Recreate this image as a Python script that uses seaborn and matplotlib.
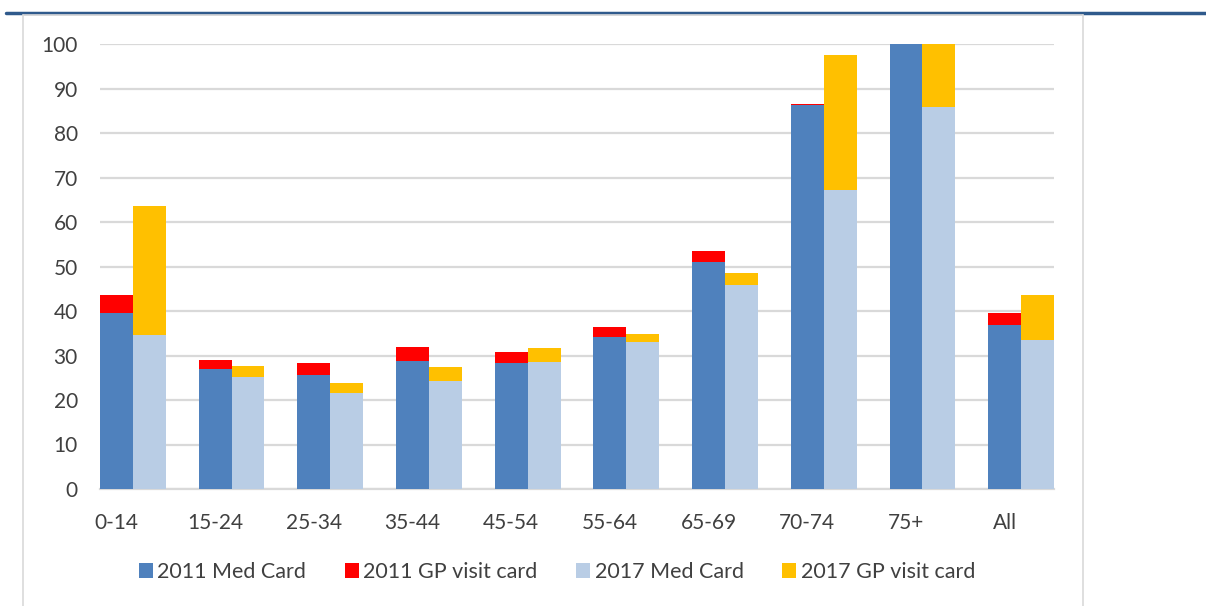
import numpy as np
import pandas as pd
import matplotlib
matplotlib.use("Agg")
import matplotlib.pyplot as plt
from matplotlib.patches import Patch
from matplotlib.lines import Line2D
import seaborn as sns

# data
ages = ['0-14', '15-24', '25-34', '35-44', '45-54', '55-64', '65-69', '70-74', '75+', 'All']
med_2011 = [39.6, 26.9, 25.6, 28.7, 28.3, 34.1, 51.0, 86.3, 100.0, 36.8]
gp_2011 = [4.1, 2.0, 2.7, 3.1, 2.4, 2.4, 2.4, 0.2, 0.0, 2.8]
med_2017 = [34.5, 25.1, 21.5, 24.2, 28.5, 33.0, 45.8, 67.3, 85.9, 33.4]
gp_2017 = [29.1, 2.6, 2.3, 3.2, 3.1, 1.8, 2.7, 30.3, 14.1, 10.3]

series = ['2011 Med Card', '2011 GP visit card', '2017 Med Card', '2017 GP visit card']
colors = ['#4F81BD', '#FF0000', '#B9CDE5', '#FFC000']

"""
Build a long table: each age group uses 3 slots (2011 bar, 2017 bar, gap)
"""
rows = []
for i, age in enumerate(ages):
    rows.append(dict(slot=3 * i, med=med_2011[i], total=med_2011[i] + gp_2011[i],
                     med_s=series[0], gp_s=series[1]))
    rows.append(dict(slot=3 * i + 1, med=med_2017[i], total=med_2017[i] + gp_2017[i],
                     med_s=series[2], gp_s=series[3]))
df = pd.DataFrame(rows)

sns.set_style('white')
plt.rcParams['font.family'] = ['Lato', 'DejaVu Sans']

fig = plt.figure(figsize=(12.06, 6.06), dpi=100)
ax = fig.add_axes([100 / 1206, 1 - 489 / 606, 954 / 1206, 445 / 606])

# totals first (GP part shows above), then Med Card on top
sns.barplot(data=df, x='slot', y='total', hue='gp_s', native_scale=True, dodge=False,
            palette=[colors[1], colors[3]], saturation=1, width=1, linewidth=0,
            ax=ax, legend=False, zorder=2)
sns.barplot(data=df, x='slot', y='med', hue='med_s', native_scale=True, dodge=False,
            palette=[colors[0], colors[2]], saturation=1, width=1, linewidth=0,
            ax=ax, legend=False, zorder=3)

ax.set_xlim(-0.5, 3 * len(ages) - 1.5)
ax.set_ylim(0, 100)
ax.set_yticks(np.arange(0, 101, 10))
ax.set_xticks(np.arange(len(ages)) * 3)
ax.set_xticklabels(ages)
ax.set_xlabel('')
ax.set_ylabel('')
ax.tick_params(axis='both', length=0, labelsize=15, colors='#404040')
ax.tick_params(axis='x', pad=17)
ax.tick_params(axis='y', pad=16)
ax.grid(axis='y', color='#D9D9D9', linewidth=1.6, zorder=0)
ax.set_axisbelow(True)
for s in ['top', 'right', 'left']:
    ax.spines[s].set_visible(False)
ax.spines['bottom'].set_color('#D9D9D9')
ax.spines['bottom'].set_linewidth(1.6)

handles = [Patch(facecolor=c, edgecolor='none') for c in colors]
fig.legend(handles, series, loc='center', bbox_to_anchor=(557 / 1206, 1 - 572 / 606),
           ncol=4, frameon=False, fontsize=15.5, handlelength=0.65, handleheight=0.65,
           handletextpad=0.2, columnspacing=1.8, labelcolor='#404040')

# page decorations: dark blue rule on top and light frame
fig.add_artist(Line2D([6 / 1206, 1], [1 - 13 / 606] * 2, color='#2F5A8C', linewidth=2.5))
fig.add_artist(Line2D([23 / 1206, 1083 / 1206], [1 - 15 / 606] * 2, color='#D9D9D9', linewidth=1.2))
fig.add_artist(Line2D([23 / 1206] * 2, [0, 1 - 15 / 606], color='#D9D9D9', linewidth=1.2))
fig.add_artist(Line2D([1083 / 1206] * 2, [0, 1 - 15 / 606], color='#D9D9D9', linewidth=1.2))

fig.savefig('out.png', dpi=100)
